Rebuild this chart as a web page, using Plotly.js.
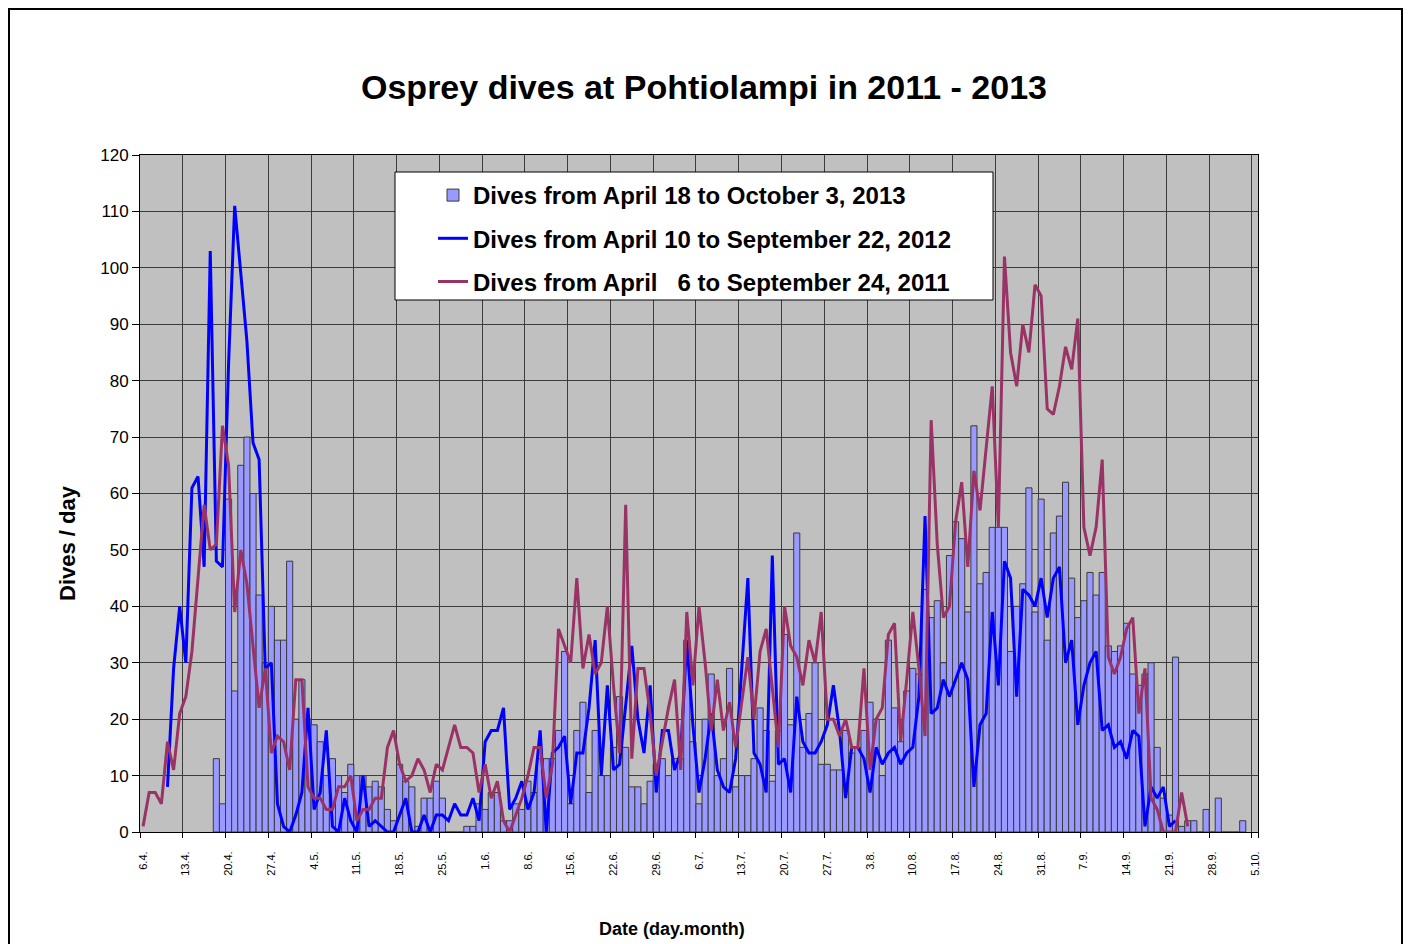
<!DOCTYPE html>
<html>
<head>
<meta charset="utf-8">
<script src="https://cdn.plot.ly/plotly-3.0.1.min.js"></script>
<style>
  html, body { margin: 0; padding: 0; background: #ffffff; }
  #chart { width: 1408px; height: 944px; }
</style>
</head>
<body>
<div id="chart"></div>
<script>
// Categories: one per day from 6 April to 5 October (day.month.)
const categories = [];
(function () {
  const d = new Date(2013, 3, 6);
  for (let i = 0; i < 183; i++) {
    categories.push(d.getDate() + '.' + (d.getMonth() + 1) + '.');
    d.setDate(d.getDate() + 1);
  }
})();

const tickLabels = ['6.4.','13.4.','20.4.','27.4.','4.5.','11.5.','18.5.','25.5.','1.6.','8.6.',
  '15.6.','22.6.','29.6.','6.7.','13.7.','20.7.','27.7.','3.8.','10.8.','17.8.','24.8.','31.8.',
  '7.9.','14.9.','21.9.','28.9.','5.10.'];

// 2013: April 18 to October 3 (bars)
const dives2013 = [
  null,null,null,null,null,null,null,null,null,null,null,null,
  13,5,59,25,65,70,60,42,
  30,40,34,34,48,20,27,20,19,16,
  10,13,10,7,12,10,10,8,9,8,
  4,2,12,9,8,1,6,6,9,6,
  0,0,0,1,1,5,4,7,7,2,
  2,5,4,9,7,13,13,13,18,32,
  5,18,23,7,18,10,10,15,24,15,
  8,8,5,9,12,13,10,13,13,34,
  16,5,20,28,10,13,29,8,10,10,
  13,22,18,9,18,35,19,53,15,21,
  30,12,12,11,11,18,14,15,18,23,
  20,10,34,22,16,25,29,28,43,38,
  41,30,49,55,52,39,72,44,46,54,
  54,54,32,40,44,61,39,59,34,53,
  56,62,45,38,41,46,42,46,33,32,
  33,37,28,26,28,30,15,6,3,31,
  1,2,2,0,4,0,6,0,0,0,
  2,null,null
];

// 2012: April 10 to September 22 (blue line)
const dives2012 = [
  null,null,null,null,8,29,40,30,61,63,
  47,103,48,47,83,111,99,87,69,66,
  29,30,5,1,0,3,7,22,4,7,
  18,1,0,6,2,0,10,1,2,1,
  0,0,3,6,0,0,3,0,3,3,
  2,5,3,3,6,2,16,18,18,22,
  4,6,9,4,7,18,0,14,15,17,
  5,14,14,22,34,10,26,11,12,22,
  33,20,14,26,7,18,18,11,14,34,
  19,7,13,21,11,8,7,13,29,45,
  14,12,7,49,12,13,7,24,16,14,
  14,16,19,26,18,6,15,15,13,7,
  15,12,14,15,12,14,15,24,56,21,
  22,27,24,27,30,27,8,19,21,39,
  26,48,45,24,43,42,40,45,38,45,
  47,30,34,19,26,30,32,18,19,15,
  16,13,18,17,1,8,6,8,1,2,
  null,null,null,null,null,null,null,null,null,null,null,null,null
];

// 2011: April 6 to September 24 (maroon line)
const dives2011 = [
  1,7,7,5,16,11,21,24,32,45,
  58,50,51,72,65,39,50,44,33,22,
  29,14,17,16,11,27,27,8,6,6,
  4,4,8,8,10,2,4,4,6,6,
  15,18,12,9,10,13,11,7,12,11,
  15,19,15,15,14,7,12,6,9,2,
  0,3,6,10,15,15,6,12,36,33,
  30,45,29,35,28,30,40,26,14,58,
  13,29,29,21,10,16,22,27,11,39,
  26,40,30,18,27,18,23,15,23,31,
  20,32,36,25,15,40,33,31,26,34,
  30,39,20,20,17,20,15,15,29,11,
  20,22,35,37,16,27,39,29,17,73,
  51,38,40,55,62,47,64,57,68,79,
  54,102,85,79,90,85,97,95,75,74,
  79,86,82,91,54,49,54,66,31,28,
  31,36,38,21,29,6,4,0,0,0,
  7,1,
  null,null,null,null,null,null,null,null,null,null,null
];

const seriesNames = [
  'Dives from April 18 to October 3, 2013',
  'Dives from April 10 to September 22, 2012',
  'Dives from April\u00a0\u00a0\u00a06 to September 24, 2011'
];

const FONT = 'Arial, "Liberation Sans", sans-serif';

const traces = [
  {
    type: 'bar', x: categories, y: dives2013, name: seriesNames[0], legendgroup: 'a',
    marker: { color: '#9999FF', line: { color: '#3a3a3a', width: 1 } },
    hoverinfo: 'x+y'
  },
  {
    type: 'scatter', mode: 'lines', x: categories, y: dives2012, name: seriesNames[1], legendgroup: 'b',
    line: { color: '#0000FF', width: 3 }, connectgaps: false
  },
  {
    type: 'scatter', mode: 'lines', x: categories, y: dives2011, name: seriesNames[2], legendgroup: 'c',
    line: { color: '#993366', width: 3 }, connectgaps: false
  }
];

const layout = {
  width: 1408, height: 944,
  margin: { l: 140, r: 150, t: 155, b: 112 },
  paper_bgcolor: '#ffffff',
  plot_bgcolor: '#C0C0C0',
  font: { family: FONT, color: '#000000' },
  bargap: 0,
  title: {
    text: '<b>Osprey dives at Pohtiolampi in 2011 - 2013</b>',
    font: { family: FONT, size: 34, color: '#000000' },
    x: 0.5, xref: 'container', xanchor: 'center',
    y: 1 - 87 / 944, yref: 'container', yanchor: 'middle'
  },
  xaxis: {
    type: 'category',
    categoryorder: 'array', categoryarray: categories,
    range: [-0.5, 182.5],
    tickmode: 'array', tickvals: tickLabels, ticktext: tickLabels,
    tickson: 'boundaries',
    ticks: 'outside', ticklen: 5, tickcolor: '#000000',
    tickangle: -90,
    ticklabelstandoff: 14,
    tickfont: { family: FONT, size: 11, color: '#000000' },
    showgrid: true, gridcolor: '#3c3c3c', gridwidth: 1,
    showline: true, linecolor: '#000000', linewidth: 1, mirror: true,
    zeroline: false
  },
  yaxis: {
    range: [0, 120], dtick: 10, tick0: 0,
    ticks: 'outside', ticklen: 7, tickcolor: '#000000',
    tickfont: { family: FONT, size: 17, color: '#000000' },
    showgrid: true, gridcolor: '#3c3c3c', gridwidth: 1,
    showline: true, linecolor: '#000000', linewidth: 1, mirror: true,
    zeroline: false
  },
  annotations: [
    { text: '<b>Dives / day</b>', xref: 'paper', yref: 'paper',
      x: (67 - 140) / 1118, y: (832 - 543) / 677, xanchor: 'center', yanchor: 'middle',
      textangle: -90, showarrow: false, font: { family: FONT, size: 22, color: '#000000' } },
    { text: '<b>Date (day.month)</b>', xref: 'paper', yref: 'paper',
      x: (672 - 140) / 1118, y: (832 - 929) / 677, xanchor: 'center', yanchor: 'middle',
      showarrow: false, font: { family: FONT, size: 18, color: '#000000' } }
  ],
  showlegend: true,
  legend: {
    x: (433 - 140) / 1118, y: (832 - 173) / 677, xanchor: 'left', yanchor: 'top',
    bgcolor: 'rgba(0,0,0,0)', borderwidth: 0,
    font: { family: FONT, size: 24, color: '#000000', weight: 'bold' },
    traceorder: 'grouped', tracegroupgap: 9
  },
  shapes: [
    { type: 'rect', xref: 'paper', yref: 'paper', layer: 'above',
      x0: (395 - 140) / 1118, x1: (993 - 140) / 1118,
      y0: (832 - 300) / 677, y1: (832 - 172) / 677,
      fillcolor: '#ffffff', line: { color: '#000000', width: 1 } },
    { type: 'rect', xref: 'paper', yref: 'paper', layer: 'above',
      x0: (9 - 140) / 1118, x1: (1402 - 140) / 1118,
      y0: (832 - 1000) / 677, y1: (832 - 9) / 677,
      fillcolor: 'rgba(0,0,0,0)', line: { color: '#000000', width: 2 } }
  ]
};

Plotly.newPlot('chart', traces, layout, { displayModeBar: false, staticPlot: true });
</script>
</body>
</html>
